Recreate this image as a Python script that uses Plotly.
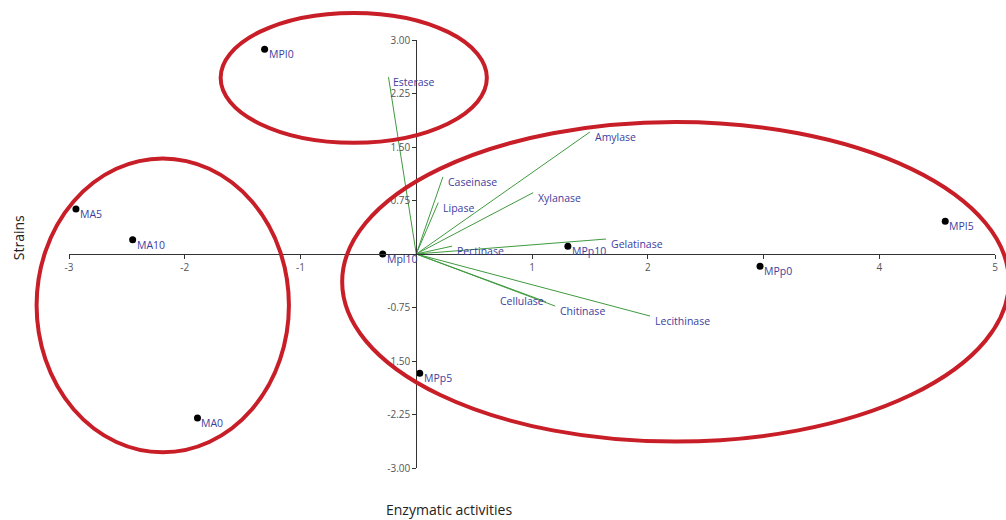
import plotly.graph_objects as go

# Strain scores
strains = ["MPI0", "MA5", "MA10", "Mpl10", "MPp10", "MPp0", "MPI5", "MPp5", "MA0"]
strain_x = [-1.31, -2.94, -2.45, -0.29, 1.31, 2.97, 4.57, 0.03, -1.89]
strain_y = [2.87, 0.63, 0.20, 0.00, 0.11, -0.17, 0.46, -1.67, -2.30]

# Enzymatic activity loadings
enzymes = ["Esterase", "Amylase", "Caseinase", "Lipase", "Xylanase",
           "Gelatinase", "Pectinase", "Cellulase", "Chitinase", "Lecithinase"]
enz_x = [-0.24, 1.50, 0.23, 0.19, 1.01, 1.64, 0.31, 1.12, 1.20, 2.02]
enz_y = [2.48, 1.71, 1.08, 0.72, 0.86, 0.21, 0.11, -0.67, -0.73, -0.87]

# Axis ticks
x_ticks = [-3, -2, -1, 1, 2, 3, 4, 5]
x_tick_text = ["-3", "-2", "-1", "1", "2", "", "4", "5"]
y_ticks = [-3.0, -2.25, -1.5, -0.75, 0.75, 1.5, 2.25, 3.0]
y_tick_text = ["-3.00", "-2.25", "-1.50", "-0.75", "0.75", "1.50", "2.25", "3.00"]

X_RANGE = [-3, 5]
Y_RANGE = [-3, 3]

# Groupings: centre (x, y) and half-widths (rx, ry) in data units
groups = [
    dict(cx=-0.54, cy=2.47, rx=1.15, ry=0.91),
    dict(cx=-2.19, cy=-0.72, rx=1.09, ry=2.06),
    dict(cx=2.24, cy=-0.39, rx=2.88, ry=2.24),
]

LABEL_COLOR = "#3d3d9e"
VEC_COLOR = "#3f9a3f"
RING_COLOR = "#c81e28"

fig = go.Figure()

# loading vectors
vx, vy = [], []
for x, y in zip(enz_x, enz_y):
    vx += [0, x, None]
    vy += [0, y, None]
fig.add_trace(go.Scatter(x=vx, y=vy, mode="lines",
                         line=dict(color=VEC_COLOR, width=1),
                         hoverinfo="skip", showlegend=False))

# strain points
fig.add_trace(go.Scatter(x=strain_x, y=strain_y, mode="markers",
                         marker=dict(color="black", size=7),
                         text=strains, hoverinfo="text",
                         showlegend=False, cliponaxis=False))

annotations = []
label_font = dict(family="Open Sans, sans-serif", size=10.5, color=LABEL_COLOR)
for name, x, y in zip(strains, strain_x, strain_y):
    annotations.append(dict(x=x, y=y, xref="x", yref="y", text=name,
                            showarrow=False, xanchor="left", yanchor="middle",
                            xshift=2, yshift=-5, font=label_font))
for name, x, y in zip(enzymes, enz_x, enz_y):
    if name == "Cellulase":
        annotations.append(dict(x=x, y=y, xref="x", yref="y", text=name,
                                showarrow=False, xanchor="right", yanchor="middle",
                                xshift=0, yshift=1, font=label_font))
    else:
        annotations.append(dict(x=x, y=y, xref="x", yref="y", text=name,
                                showarrow=False, xanchor="left", yanchor="middle",
                                xshift=3, yshift=-5, font=label_font))

title_font = dict(family="Open Sans, sans-serif", size=14, color="#222222")
annotations.append(dict(x=-0.055, y=0.537, xref="paper", yref="paper",
                        text="Strains", showarrow=False, textangle=-90,
                        xanchor="center", yanchor="middle", font=title_font))
annotations.append(dict(x=0.41, y=-0.098, xref="paper", yref="paper",
                        text="Enzymatic activities", showarrow=False,
                        xanchor="center", yanchor="middle", font=title_font))


def px(v, rng):
    return (v - rng[0]) / (rng[1] - rng[0])


shapes = []
for g in groups:
    shapes.append(dict(type="circle", xref="paper", yref="paper",
                       x0=px(g["cx"] - g["rx"], X_RANGE), x1=px(g["cx"] + g["rx"], X_RANGE),
                       y0=px(g["cy"] - g["ry"], Y_RANGE), y1=px(g["cy"] + g["ry"], Y_RANGE),
                       line=dict(color=RING_COLOR, width=4), layer="above"))

tick_font = dict(family="Open Sans, sans-serif", size=10, color="#555555")
fig.update_layout(
    width=1006, height=520,
    margin=dict(l=69, r=8, t=40, b=52),
    paper_bgcolor="white", plot_bgcolor="white",
    xaxis=dict(range=X_RANGE, anchor="free", position=px(0, Y_RANGE),
               showgrid=False, zeroline=False, showline=True,
               linecolor="#333333", linewidth=1,
               tickmode="array", tickvals=x_ticks, ticktext=x_tick_text,
               ticks="outside", ticklen=4, tickcolor="#333333",
               tickfont=tick_font),
    yaxis=dict(range=Y_RANGE, anchor="free", position=px(0, X_RANGE),
               showgrid=False, zeroline=False, showline=True,
               linecolor="#333333", linewidth=1,
               tickmode="array", tickvals=y_ticks, ticktext=y_tick_text,
               ticks="outside", ticklen=4, tickcolor="#333333",
               tickfont=tick_font),
    annotations=annotations,
    shapes=shapes,
)

fig.write_html("out.html")
